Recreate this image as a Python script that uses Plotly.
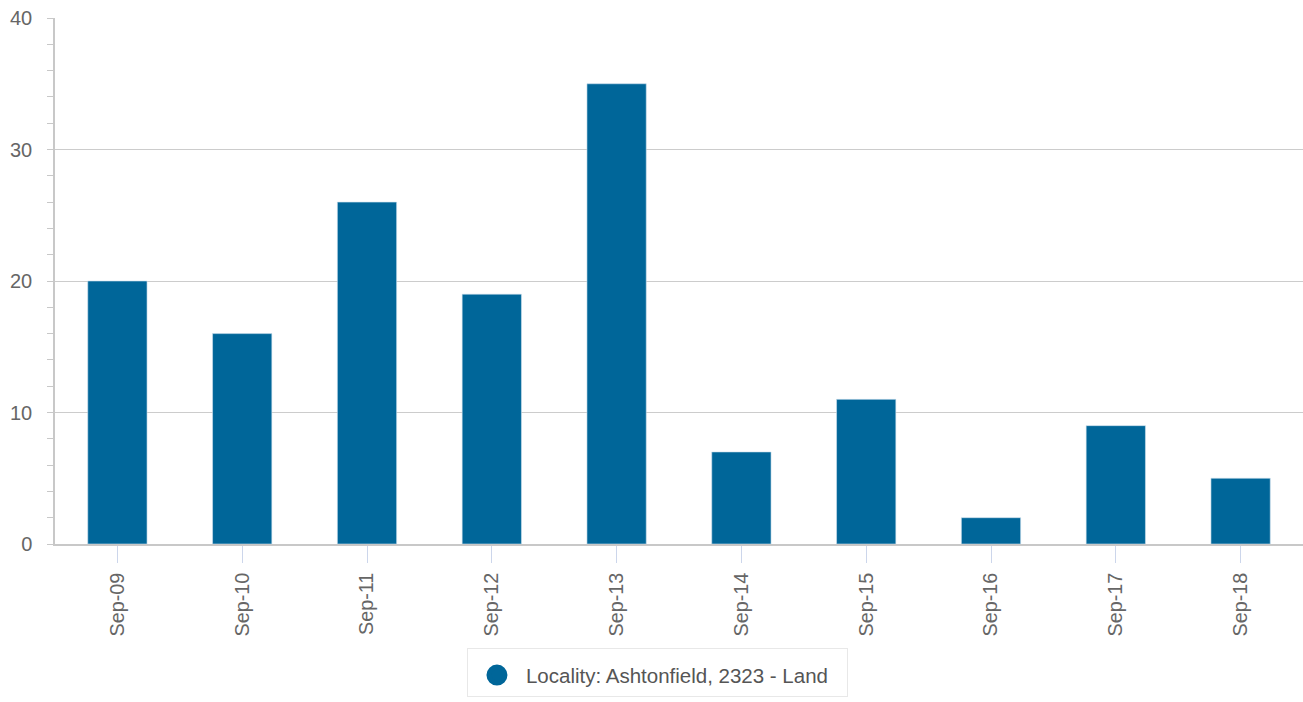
import plotly.graph_objects as go

categories = ["Sep-09", "Sep-10", "Sep-11", "Sep-12", "Sep-13",
              "Sep-14", "Sep-15", "Sep-16", "Sep-17", "Sep-18"]
values = [20, 16, 26, 19, 35, 7, 11, 2, 9, 5]
series_name = "Locality: Ashtonfield, 2323 - Land"
y_ticks = [0, 10, 20, 30, 40]

bar_color = "#006699"
font_family = "Liberation Sans, Arial, Helvetica, sans-serif"

fig = go.Figure()
fig.add_trace(go.Bar(
    x=categories, y=values, name=series_name,
    marker=dict(color=bar_color, line=dict(color="#cfe0ee", width=0.6)),
    width=0.475, showlegend=False,
))
fig.add_trace(go.Scatter(
    x=[None], y=[None], mode="markers", name=series_name,
    marker=dict(symbol="circle", size=16, color=bar_color,
                line=dict(color=bar_color, width=5)),
))

fig.update_layout(
    width=1303, height=702,
    margin=dict(l=55, r=0, t=18, b=158, autoexpand=False),
    plot_bgcolor="white", paper_bgcolor="white",
    font=dict(family=font_family, color="#666666"),
    xaxis=dict(
        type="category", automargin=False,
        showline=True, linecolor="#c8c8c8", linewidth=1.5,
        ticks="outside", ticklen=17, tickcolor="#ccd6eb", tickwidth=1,
        tickangle=-90, tickfont=dict(size=19.8, color="#666666"),
        ticklabelstandoff=2,
        showgrid=False, zeroline=False,
    ),
    yaxis=dict(
        range=[0, 40], tickvals=y_ticks, automargin=False,
        showline=True, linecolor="#c8c8c8", linewidth=1.5,
        showgrid=True, gridcolor="#cccccc", gridwidth=1,
        ticks="outside", ticklen=6, tickcolor="#c8c8c8",
        tickfont=dict(size=20, color="#666666"),
        ticklabelstandoff=11, ticklabeloverflow="allow",
        minor=dict(dtick=2, ticks="outside", ticklen=6, tickcolor="#c8c8c8", showgrid=False),
        zeroline=False,
    ),
    legend=dict(
        orientation="h", xref="paper", x=0.3301, xanchor="left",
        yref="paper", y=-0.1973, yanchor="top",
        bordercolor="#e8e8e8", borderwidth=1,
        font=dict(size=20.5, color="#555555"),
        itemwidth=48, entrywidth=316,
        title=dict(text=" ", side="top", font=dict(size=5)),
        itemclick=False,
    ),
)

fig.write_html("out.html",
               config={"displayModeBar": False},
               post_script="document.body.style.margin='0';document.body.style.overflow='hidden';")
